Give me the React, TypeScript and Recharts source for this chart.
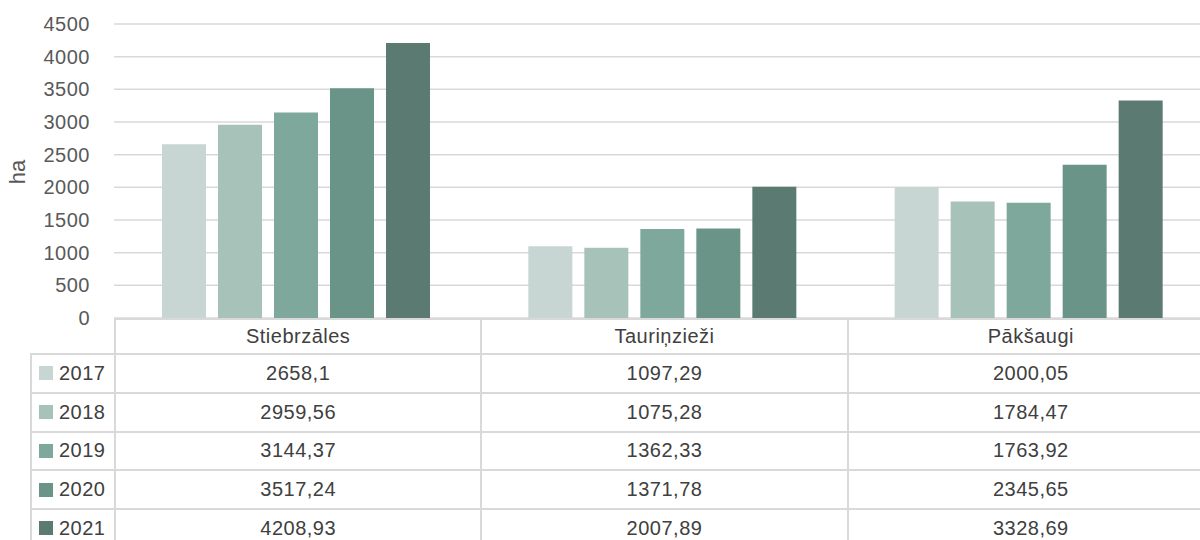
import { BarChart, Bar, XAxis, YAxis, CartesianGrid } from 'recharts';

const categories = ['Stiebrzāles', 'Tauriņzieži', 'Pākšaugi'];
const years = ['2017', '2018', '2019', '2020', '2021'];
const v2017 = [2658.1, 1097.29, 2000.05];
const v2018 = [2959.56, 1075.28, 1784.47];
const v2019 = [3144.37, 1362.33, 1763.92];
const v2020 = [3517.24, 1371.78, 2345.65];
const v2021 = [4208.93, 2007.89, 3328.69];
const yTicks = [0, 500, 1000, 1500, 2000, 2500, 3000, 3500, 4000, 4500];

const series = [v2017, v2018, v2019, v2020, v2021];
const colors = ['#c7d6d2', '#a7c2b9', '#7ea89c', '#6a9488', '#5b7b72'];

const data = categories.map((name, i) => {
  const row: Record<string, string | number> = { name };
  years.forEach((y, j) => { row[y] = series[j][i]; });
  return row;
});

const fmt = (v: number) => String(v).replace('.', ',');

const FONT = '"Liberation Sans", Arial, sans-serif';
const GRID = '#d9d9d9';

// geometry of the plot, shared with the table underneath
const LEFT = 114;
const PLOT_W = 1099;
const COL_W = PLOT_W / 3;
const TOP = 318;
const HEAD_H = 35;
const ROW_H = 38.75;

export default function App() {
  return (
    <div style={{ position: 'absolute', left: 0, top: 0, width: 1200, height: 540, overflow: 'hidden', background: '#fff', fontFamily: FONT }}>
      <BarChart
        width={LEFT + PLOT_W + 1}
        height={330}
        data={data}
        margin={{ top: 24, right: 1, bottom: 12, left: 0 }}
        barCategoryGap={48}
        barGap={12}
      >
        <CartesianGrid vertical={false} stroke={GRID} strokeWidth={1.5} />
        <XAxis dataKey="name" hide />
        <YAxis
          width={LEFT}
          domain={[0, 4500]}
          ticks={yTicks}
          interval={0}
          tickSize={0}
          tickMargin={24}
          axisLine={false}
          tickLine={false}
          tick={{ fill: '#595959', fontSize: 20, fontFamily: FONT, letterSpacing: 0.5 }}
          label={{
            content: () => (
              <text x={25} y={172} transform="rotate(-90 25 172)" textAnchor="middle" fill="#595959" fontSize={22} fontFamily={FONT}>ha</text>
            ),
          }}
        />
        {years.map((y, j) => (
          <Bar key={y} dataKey={y} fill={colors[j]} isAnimationActive={false} />
        ))}
      </BarChart>

      {/* data table */}
      {categories.map((c, i) => (
        <div key={c} style={{
          position: 'absolute', left: LEFT + i * COL_W, top: TOP, width: COL_W, height: HEAD_H, background: '#fff',
          borderLeft: `2px solid ${GRID}`, borderTop: `2px solid ${GRID}`, boxSizing: 'border-box', display: 'flex', alignItems: 'center', justifyContent: 'center',
          fontSize: 20, letterSpacing: 0.5, color: '#404040',
        }}>{c}</div>
      ))}
      {years.map((y, j) => {
        const top = TOP + HEAD_H + j * ROW_H;
        return (
          <div key={y}>
            <div style={{
              position: 'absolute', left: 30, top, width: LEFT - 30, height: ROW_H,
              borderLeft: `2px solid ${GRID}`, borderTop: `2px solid ${GRID}`, boxSizing: 'border-box',
              display: 'flex', alignItems: 'center', fontSize: 20, letterSpacing: 0.5, color: '#404040',
            }}>
              <span style={{ display: 'inline-block', width: 14, height: 14, background: colors[j], marginLeft: 7, marginRight: 6 }} />
              {y}
            </div>
            {categories.map((c, i) => (
              <div key={c} style={{
                position: 'absolute', left: LEFT + i * COL_W, top, width: COL_W, height: ROW_H,
                borderLeft: `2px solid ${GRID}`, borderTop: `2px solid ${GRID}`, boxSizing: 'border-box',
                display: 'flex', alignItems: 'center', justifyContent: 'center', fontSize: 20, letterSpacing: 0.5, color: '#404040',
              }}>{fmt(series[j][i])}</div>
            ))}
          </div>
        );
      })}
    </div>
  );
}
